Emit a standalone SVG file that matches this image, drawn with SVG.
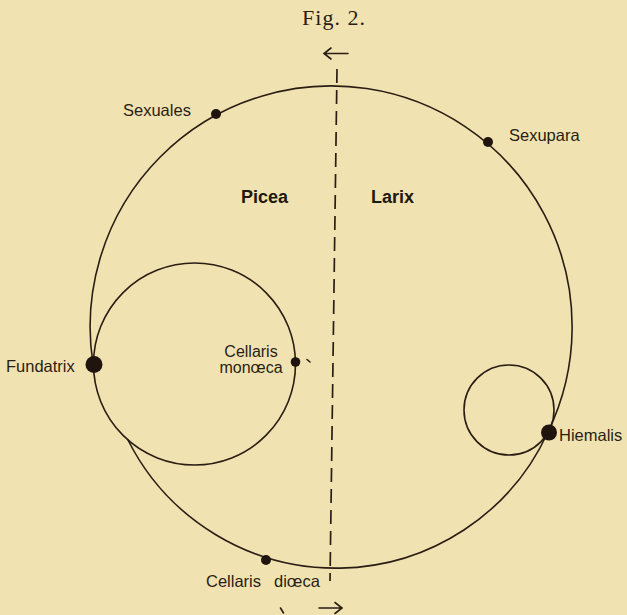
<svg xmlns="http://www.w3.org/2000/svg" width="627" height="615" viewBox="0 0 627 615">
<style>
.ln{fill:none;stroke:#2a1d14;stroke-width:1.6;stroke-linecap:round}
.dash{fill:none;stroke:#2a1d14;stroke-width:1.7;stroke-dasharray:14 7}
.dot{fill:#1f150e}
.lbl{font-family:"Liberation Sans",Arial,sans-serif;font-size:16.5px;fill:#2a1d14}
.bold{font-family:"Liberation Sans",Arial,sans-serif;font-size:18px;font-weight:bold;fill:#22170f}
.title{font-family:"Liberation Serif","Times New Roman",serif;font-size:22px;fill:#2a1d14;letter-spacing:1px}
</style>
<rect width="627" height="615" fill="#f1e3b1"/>
<text class="title" x="334" y="25" text-anchor="middle">Fig. 2.</text>
<g id="connectors">
<path id="upper-cycle" class="ln" d="M 93,364 A 241 241 0 1 1 548,432"/>
<path id="lower-cycle" class="ln" d="M 548,432 A 233 233 0 0 1 128,440"/>
<circle id="picea-circle" class="ln" cx="194.5" cy="364" r="101"/>
<circle id="hiemalis-circle" class="ln" cx="509" cy="410" r="45"/>
<line id="divider" class="dash" x1="337" y1="69" x2="330" y2="581"/>
<path id="arrow-top" class="ln" d="M 348,53.5 L 324,53.5 M 331,48 L 324,53.5 L 331,59"/>
<path id="arrow-bottom" class="ln" d="M 319,608 L 342,608 M 335,602.5 L 342,608 L 335,613.5"/>
<path class="ln" d="M 307,359.5 L 310,362" stroke-width="1.2"/>
<path class="ln" d="M 280.5,608 L 283.5,613" stroke-width="1.2"/>
</g>
<g id="sexuales"><circle class="dot" cx="216" cy="114" r="5"/><text class="lbl" x="123" y="116">Sexuales</text></g>
<g id="sexupara"><circle class="dot" cx="488" cy="142" r="5"/><text class="lbl" x="509" y="141">Sexupara</text></g>
<g id="picea"><text class="bold" x="241" y="203">Picea</text></g>
<g id="larix"><text class="bold" x="371" y="203">Larix</text></g>
<g id="fundatrix"><circle class="dot" cx="94" cy="364.5" r="8.5"/><text class="lbl" x="6" y="372">Fundatrix</text></g>
<g id="cellaris-monoeca"><circle class="dot" cx="295.5" cy="362" r="4.8"/><text class="lbl" x="251" y="357" text-anchor="middle" style="font-size:16px">Cellaris</text><text class="lbl" x="251" y="373" text-anchor="middle" style="font-size:16px">monœca</text></g>
<g id="hiemalis"><circle class="dot" cx="549" cy="432.5" r="8"/><text class="lbl" x="559" y="441">Hiemalis</text></g>
<g id="cellaris-dioeca"><circle class="dot" cx="266" cy="560" r="5"/><text class="lbl" x="206" y="587">Cellaris</text><text class="lbl" x="274" y="587">diœca</text></g>
</svg>
